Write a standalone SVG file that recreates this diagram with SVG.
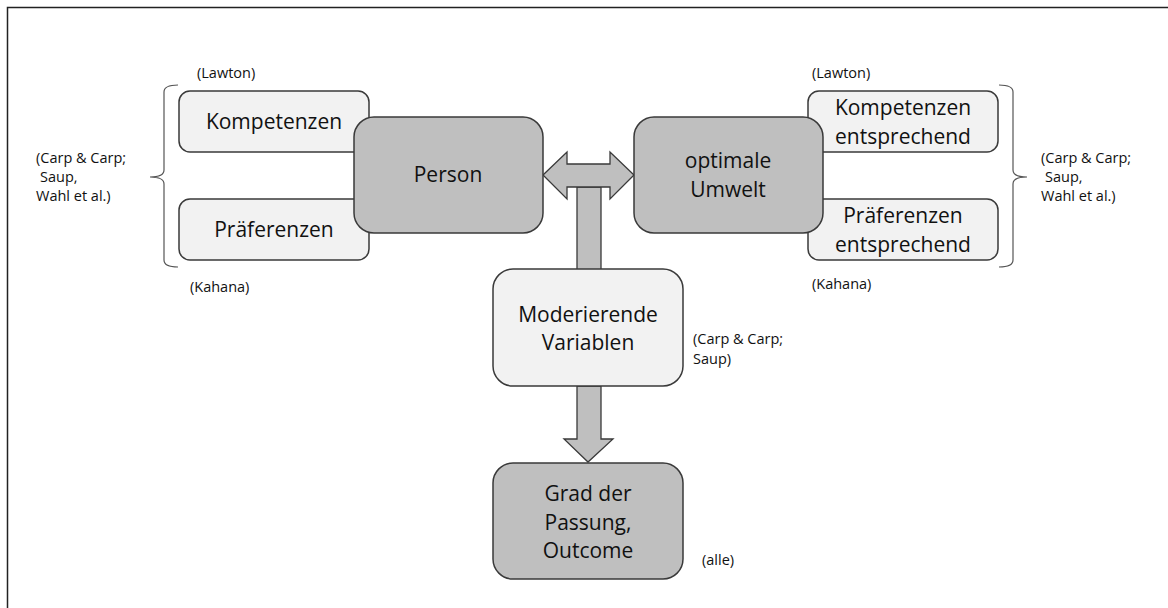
<svg xmlns="http://www.w3.org/2000/svg" width="1168" height="608" viewBox="0 0 1168 608">
<style>
.light{fill:#f2f2f2;stroke:#3a3a3a;stroke-width:1.5}
.dark{fill:#bfbfbf;stroke:#3a3a3a;stroke-width:1.5}
.arr{fill:#bfbfbf;stroke:#3a3a3a;stroke-width:1.3;stroke-linejoin:miter}
.t{font-family:"Open Sans","Liberation Sans",sans-serif;font-size:21px;fill:#111;text-anchor:middle}
.s{font-family:"Open Sans","Liberation Sans",sans-serif;font-size:14.5px;fill:#111}
.br{fill:none;stroke:#555;stroke-width:1.2}
</style>
<rect width="1168" height="608" fill="#fff"/>
<path d="M7.5 608 V7.5 H1168" fill="none" stroke="#222" stroke-width="1.5"/>

<g id="connectors">
<path class="arr" d="M577 187 V290 H601 V187 Z"/>
<path class="arr" d="M543 175 L567 152 V164 H610 V152 L634 175 L610 199 V187 H567 V199 Z"/>
<path class="arr" d="M577 386 V439 H564 L588 462 L613 439 H601 V386 Z"/>
</g>

<g id="brackets">
<path class="br" d="M178 85 Q164 85 164 92 V170 Q164 177 150 177 Q164 177 164 184 V260 Q164 267 178 267"/>
<path class="br" d="M999 85 Q1013 85 1013 92 V170 Q1013 177 1027 177 Q1013 177 1013 184 V260 Q1013 267 999 267"/>
</g>

<g id="n-kompetenzen-l"><rect class="light" x="179" y="91" width="190" height="61" rx="11"/><text class="t" x="274" y="129">Kompetenzen</text></g>
<g id="n-praeferenzen-l"><rect class="light" x="179" y="199" width="190" height="61" rx="11"/><text class="t" x="274" y="237">Präferenzen</text></g>
<g id="n-kompetenzen-r"><rect class="light" x="808" y="91" width="190" height="61" rx="11"/><text class="t" x="903" y="115">Kompetenzen</text><text class="t" x="903" y="144">entsprechend</text></g>
<g id="n-praeferenzen-r"><rect class="light" x="808" y="199" width="190" height="61" rx="11"/><text class="t" x="903" y="223">Präferenzen</text><text class="t" x="903" y="252">entsprechend</text></g>
<g id="n-person"><rect class="dark" x="354" y="117" width="189" height="116" rx="20"/><text class="t" x="448" y="182">Person</text></g>
<g id="n-umwelt"><rect class="dark" x="634" y="117" width="189" height="116" rx="20"/><text class="t" x="728" y="168">optimale</text><text class="t" x="728" y="197">Umwelt</text></g>
<g id="n-moderierende"><rect class="light" x="493" y="269" width="190" height="117" rx="20"/><text class="t" x="588" y="322">Moderierende</text><text class="t" x="588" y="350">Variablen</text></g>
<g id="n-grad"><rect class="dark" x="493" y="463" width="190" height="116" rx="20"/><text class="t" x="588" y="501">Grad der</text><text class="t" x="588" y="530">Passung,</text><text class="t" x="588" y="558">Outcome</text></g>

<g id="labels">
<text class="s" x="197" y="78">(Lawton)</text>
<text class="s" x="190" y="292">(Kahana)</text>
<text class="s" x="36" y="163">(Carp &amp; Carp;</text>
<text class="s" x="40" y="182">Saup,</text>
<text class="s" x="36" y="201">Wahl et al.)</text>
<text class="s" x="812" y="78">(Lawton)</text>
<text class="s" x="812" y="289">(Kahana)</text>
<text class="s" x="1041" y="163">(Carp &amp; Carp;</text>
<text class="s" x="1045" y="182">Saup,</text>
<text class="s" x="1041" y="201">Wahl et al.)</text>
<text class="s" x="693" y="344">(Carp &amp; Carp;</text>
<text class="s" x="693" y="364">Saup)</text>
<text class="s" x="702" y="565">(alle)</text>
</g>
</svg>
